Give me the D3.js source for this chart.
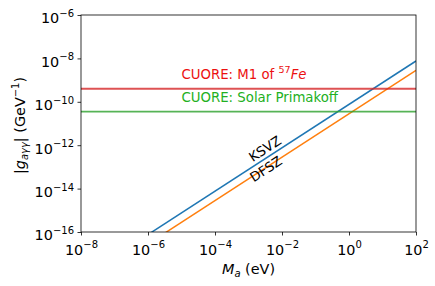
<!DOCTYPE html>
<html>
<head>
<meta charset="utf-8">
<script src="https://cdn.jsdelivr.net/npm/d3@7"></script>
<style>
  body { margin: 0; background: #fff; }
  text { font-family: "DejaVu Sans", sans-serif; }
</style>
</head>
<body>
<div id="chart"></div>
<script>
// axion mass range (eV) and coupling lines
const massRange = [1e-8, 1e2];
const ksvz = [7.6e-19, 7.6e-9];
const dfsz = [2.8e-19, 2.8e-9];

// CUORE limits (GeV^-1)
const cuoreFe = 4.0e-10;
const cuorePrimakoff = 3.5e-11;

const xTicks = [-8, -6, -4, -2, 0, 2];
const yTicks = [-16, -14, -12, -10, -8, -6];

const width = 435;
const height = 286;
const margin = { top: 15, right: 19, bottom: 54, left: 81 };

const svg = d3.select('#chart')
    .append('svg')
    .attr('width', width)
    .attr('height', height);

const x = d3.scaleLog()
    .domain([1e-8, 1e2])
    .range([margin.left, width - margin.right]);

const y = d3.scaleLog()
    .domain([1e-16, 1e-6])
    .range([height - margin.bottom, margin.top]);

// clip path for the plot area
svg.append('clipPath')
    .attr('id', 'clip')
    .append('rect')
    .attr('x', margin.left)
    .attr('y', margin.top)
    .attr('width', x.range()[1] - x.range()[0])
    .attr('height', y.range()[0] - y.range()[1]);

const plot = svg.append('g').attr('clip-path', 'url(#clip)');

const line = d3.line()
    .x(d => x(d[0]))
    .y(d => y(d[1]));

plot.append('path')
    .datum(massRange.map((m, i) => [m, ksvz[i]]))
    .attr('d', line)
    .attr('fill', 'none')
    .attr('stroke', '#1f77b4')
    .attr('stroke-width', 1.5);

plot.append('path')
    .datum(massRange.map((m, i) => [m, dfsz[i]]))
    .attr('d', line)
    .attr('fill', 'none')
    .attr('stroke', '#ff7f0e')
    .attr('stroke-width', 1.5);

plot.append('line')
    .attr('x1', x.range()[0]).attr('x2', x.range()[1])
    .attr('y1', y(cuoreFe)).attr('y2', y(cuoreFe))
    .attr('stroke', '#d62728').attr('stroke-opacity', 0.8)
    .attr('stroke-width', 1.8);

plot.append('line')
    .attr('x1', x.range()[0]).attr('x2', x.range()[1])
    .attr('y1', y(cuorePrimakoff)).attr('y2', y(cuorePrimakoff))
    .attr('stroke', '#2ca02c').attr('stroke-opacity', 0.8)
    .attr('stroke-width', 1.8);

// axes, labels as 10^e with superscript
function supLabel(sel, e) {
    sel.text(null);
    sel.append('tspan').text('10');
    sel.append('tspan')
        .attr('dy', -6.5)
        .attr('font-size', 10)
        .text(e < 0 ? '\u2212' + Math.abs(e) : e);
}

const xAxis = svg.append('g')
    .attr('transform', `translate(0,${y.range()[0]})`)
    .call(d3.axisBottom(x).tickValues(xTicks.map(e => Math.pow(10, e))).tickSize(3.5).tickPadding(3.5));

const yAxis = svg.append('g')
    .attr('transform', `translate(${margin.left},0)`)
    .call(d3.axisLeft(y).tickValues(yTicks.map(e => Math.pow(10, e))).tickSize(3.5).tickPadding(3.5));

[xAxis, yAxis].forEach(ax => {
    ax.select('.domain').remove();
    ax.selectAll('.tick line').attr('stroke', '#000').attr('stroke-width', 0.8);
    ax.selectAll('.tick text')
        .attr('font-size', 14.4)
        .attr('fill', '#000')
        .each(function(d) {
            supLabel(d3.select(this), Math.round(Math.log10(d)));
        });
});

xAxis.selectAll('.tick text').attr('dy', '1.1em');
yAxis.selectAll('.tick text').attr('dy', '0.55em');

// frame
svg.append('rect')
    .attr('x', margin.left)
    .attr('y', margin.top)
    .attr('width', x.range()[1] - x.range()[0])
    .attr('height', y.range()[0] - y.range()[1])
    .attr('fill', 'none')
    .attr('stroke', '#000')
    .attr('stroke-width', 0.8);

// annotations
const fe = svg.append('text')
    .attr('x', x(1e-5))
    .attr('y', y(cuoreFe) - 10)
    .attr('font-size', 13.3)
    .attr('fill', '#ec1010');
fe.append('tspan').text('CUORE: M1 of ');
fe.append('tspan').attr('dy', -5.5).attr('font-size', 9.5).text('57');
fe.append('tspan').attr('dy', 5.5).attr('font-style', 'italic').text('Fe');

svg.append('text')
    .attr('x', x(1e-5))
    .attr('y', y(cuorePrimakoff) - 10)
    .attr('font-size', 13.3)
    .attr('fill', '#22b022')
    .text('CUORE: Solar Primakoff');

svg.append('text')
    .attr('transform', `translate(${x(3.1e-3)},${y(6.8e-13)}) rotate(-33)`)
    .attr('text-anchor', 'middle')
    .attr('dy', '0.35em')
    .attr('font-size', 13.3)
    .text('KSVZ');

svg.append('text')
    .attr('transform', `translate(${x(3.3e-3)},${y(8e-14)}) rotate(-33)`)
    .attr('text-anchor', 'middle')
    .attr('dy', '0.35em')
    .attr('font-size', 13.3)
    .text('DFSZ');

// axis titles
const xl = svg.append('text')
    .attr('x', (x.range()[0] + x.range()[1]) / 2)
    .attr('y', 274)
    .attr('text-anchor', 'middle')
    .attr('font-size', 14.4);
xl.append('tspan').attr('font-style', 'italic').text('M');
xl.append('tspan').attr('font-style', 'italic').attr('font-size', 10).attr('dy', 3).text('a');
xl.append('tspan').attr('dy', -3).text(' (eV)');

const yl = svg.append('text')
    .attr('transform', `translate(25,${(y.range()[0] + y.range()[1]) / 2 + 2}) rotate(-90)`)
    .attr('text-anchor', 'middle')
    .attr('font-size', 14.4);
yl.append('tspan').text('|');
yl.append('tspan').attr('font-style', 'italic').text('g');
yl.append('tspan').attr('font-style', 'italic').attr('font-size', 10).attr('dy', 3).text('a\u03b3\u03b3');
yl.append('tspan').attr('dy', -3).text('| (GeV');
yl.append('tspan').attr('dy', -6.5).attr('font-size', 10).text('\u22121');
yl.append('tspan').attr('dy', 6.5).text(')');
</script>
</body>
</html>
